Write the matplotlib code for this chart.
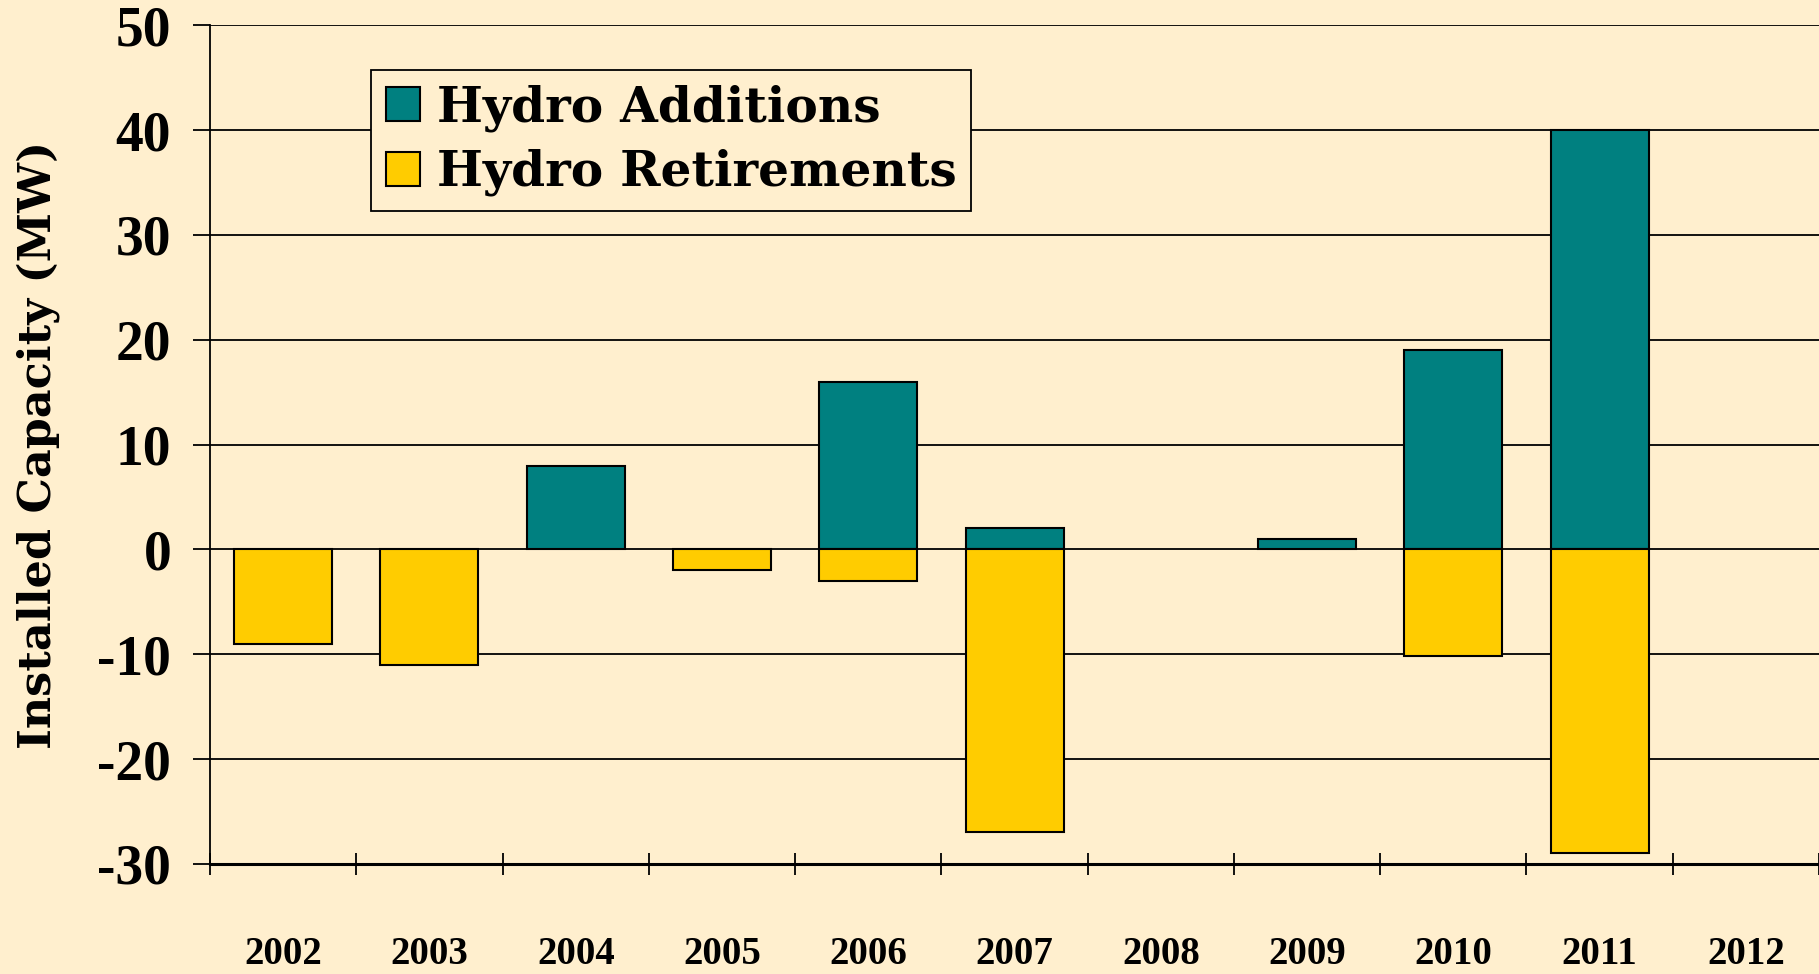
import numpy as np
import matplotlib
matplotlib.use("Agg")
import matplotlib.pyplot as plt
from matplotlib.ticker import FixedLocator

years = ["2002", "2003", "2004", "2005", "2006", "2007",
         "2008", "2009", "2010", "2011", "2012"]
additions = [0, 0, 8, 0, 16, 2, 0, 1, 19, 40, 0]
retirements = [-9, -11, 0, -2, -3, -27, 0, 0, -10.2, -29, 0]

BG = "#FFEFCE"
TEAL = "#008080"
GOLD = "#FFCC00"

plt.rcParams["axes.unicode_minus"] = False

fig = plt.figure(figsize=(18.19, 9.74), dpi=100, facecolor=BG)
ax = fig.add_axes([0.1155, 0.113, 0.8845, 0.861])
ax.set_facecolor(BG)

x = np.arange(len(years))
w = 0.67
# zero entries are not drawn (no bar in the original)
add = np.where(np.array(additions) == 0, np.nan, additions)
ret = np.where(np.array(retirements) == 0, np.nan, retirements)
ax.bar(x, add, width=w, color=TEAL, edgecolor="black", linewidth=1.5,
       label="Hydro Additions", zorder=3)
ax.bar(x, ret, width=w, color=GOLD, edgecolor="black", linewidth=1.5,
       label="Hydro Retirements", zorder=3)

ax.set_xlim(-0.5, len(years) - 0.5)
ax.set_ylim(-30, 50)
ax.set_yticks(np.arange(-30, 51, 10))
ax.yaxis.grid(True, color="black", linewidth=1.3, zorder=1)

# ticks at category boundaries, labels at category centres
ax.xaxis.set_major_locator(FixedLocator(np.arange(-0.5, len(years), 1.0)))
ax.set_xticklabels([])
ax.xaxis.set_minor_locator(FixedLocator(x))
ax.set_xticklabels(years, minor=True)
ax.tick_params(axis="x", which="major", direction="inout", length=16, width=1.3)
ax.tick_params(axis="x", which="minor", length=0, pad=52)
ax.tick_params(axis="y", direction="out", length=12, width=1.3, pad=16)

for lab in ax.get_xticklabels(minor=True):
    lab.set_fontfamily("Liberation Serif")
    lab.set_fontweight("bold")
    lab.set_fontsize(28)
for lab in ax.get_yticklabels():
    lab.set_fontfamily("Liberation Serif")
    lab.set_fontweight("bold")
    lab.set_fontsize(40)

for s in ["top", "right"]:
    ax.spines[s].set_visible(False)
ax.spines["left"].set_linewidth(1.3)
ax.spines["bottom"].set_linewidth(2.2)

ax.set_ylabel("Installed Capacity (MW)", fontfamily="DejaVu Serif",
              fontweight="bold", fontsize=32)
ax.yaxis.set_label_coords(-0.093, 0.5)

leg = ax.legend(loc="upper left", bbox_to_anchor=(0.1, 0.947), borderaxespad=0,
                prop={"family": "DejaVu Serif", "weight": "bold", "size": 35},
                fancybox=False, framealpha=1, facecolor=BG, edgecolor="black",
                handlelength=0.7, handleheight=0.7, handletextpad=0.35,
                labelspacing=0.35, borderpad=0.3)
leg.get_frame().set_linewidth(1.3)

fig.savefig("out.png", dpi=100, facecolor=BG)
